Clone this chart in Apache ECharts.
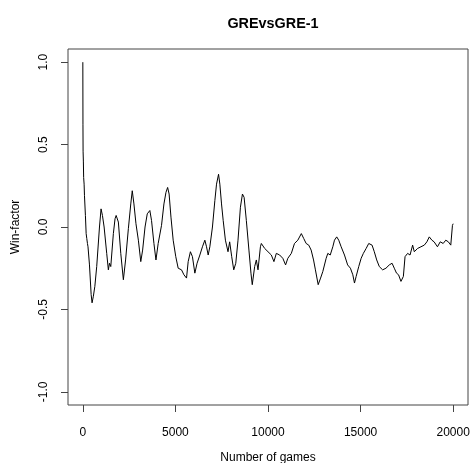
<!DOCTYPE html>
<html>
<head>
<meta charset="utf-8">
<script src="https://cdn.jsdelivr.net/npm/echarts@6/dist/echarts.min.js"></script>
<style>
html,body{margin:0;padding:0;background:#fff;}
#chart{width:472px;height:463px;}
</style>
</head>
<body>
<div id="chart"></div>
<script>
const chartTitle = "GREvsGRE-1";
const xAxisName = "Number of games";
const yAxisName = "Win-factor";
const xTicks = [0, 5000, 10000, 15000, 20000];
const yTicks = [-1.0, -0.5, 0.0, 0.5, 1.0];
const games = [1,8,15,30,45,70,90,140,180,215,250,280,360,450,500,570,650,750,900,985,1060,1150,1290,1380,1440,1510,1650,1740,1800,1860,1920,2050,2190,2310,2460,2590,2670,2760,2870,3000,3130,3230,3360,3480,3620,3710,3840,3950,4070,4160,4250,4380,4490,4580,4660,4760,4880,5020,5150,5330,5460,5600,5690,5810,5920,6050,6170,6320,6460,6590,6680,6770,6860,7000,7130,7220,7330,7400,7490,7580,7700,7840,7930,8040,8150,8260,8380,8510,8620,8710,8830,8970,9080,9150,9280,9370,9460,9590,9640,9820,10000,10180,10320,10450,10630,10800,10950,11070,11260,11430,11610,11800,11930,12060,12200,12330,12460,12560,12710,12840,12960,13140,13230,13360,13500,13590,13710,13820,13950,14130,14300,14450,14580,14670,14760,14900,15030,15150,15300,15440,15530,15620,15740,15870,16010,16190,16370,16550,16700,16820,16940,17050,17180,17310,17400,17540,17670,17810,17900,18080,18260,18440,18580,18710,18850,18970,19150,19300,19460,19600,19740,19870,19960,20000];
const winFactor = [1.00,0.62,0.46,0.40,0.30,0.26,0.19,0.07,-0.04,-0.07,-0.10,-0.12,-0.23,-0.41,-0.46,-0.42,-0.36,-0.24,0.00,0.11,0.07,0.00,-0.16,-0.26,-0.22,-0.24,-0.04,0.05,0.07,0.08,0.03,-0.16,-0.32,-0.20,-0.01,0.14,0.22,0.14,0.02,-0.08,-0.21,-0.14,0.00,0.08,0.10,0.04,-0.10,-0.20,-0.10,-0.10,0.01,0.14,0.21,0.24,0.20,0.06,-0.08,-0.18,-0.25,-0.26,-0.29,-0.31,-0.21,-0.15,-0.18,-0.28,-0.22,-0.17,-0.12,-0.08,-0.12,-0.17,-0.12,0.00,0.16,0.26,0.32,0.26,0.14,0.04,-0.08,-0.15,-0.09,-0.18,-0.26,-0.22,-0.08,0.12,0.20,0.18,0.04,-0.14,-0.28,-0.35,-0.24,-0.20,-0.26,-0.12,-0.10,-0.13,-0.15,-0.17,-0.21,-0.16,-0.17,-0.19,-0.23,-0.19,-0.16,-0.10,-0.08,-0.04,-0.07,-0.10,-0.11,-0.14,-0.20,-0.26,-0.35,-0.31,-0.27,-0.19,-0.16,-0.17,-0.12,-0.08,-0.06,-0.08,-0.12,-0.17,-0.23,-0.25,-0.29,-0.34,-0.30,-0.24,-0.19,-0.16,-0.13,-0.10,-0.09,-0.11,-0.15,-0.20,-0.24,-0.26,-0.25,-0.23,-0.22,-0.25,-0.28,-0.29,-0.33,-0.30,-0.18,-0.16,-0.17,-0.11,-0.15,-0.13,-0.12,-0.11,-0.09,-0.06,-0.08,-0.09,-0.12,-0.09,-0.10,-0.08,-0.09,-0.11,0.01,0.02];

const FONT = "Liberation Sans, Arial, sans-serif";
const chart = echarts.init(document.getElementById('chart'), null, {renderer: 'canvas'});
const seriesData = games.map((g, i) => [g, winFactor[i]]);
chart.setOption({
  animation: false,
  backgroundColor: '#ffffff',
  title: {
    text: chartTitle,
    left: 268,
    top: 12,
    textAlign: 'center',
    textStyle: {fontFamily: FONT, fontSize: 14.4, fontWeight: 'bold', color: '#000'}
  },
  grid: {
    left: 68, right: 4, top: 49, bottom: 58,
    containLabel: false,
    outerBoundsMode: 'none',
    show: true, borderColor: '#444', borderWidth: 1, backgroundColor: 'transparent'
  },
  xAxis: {
    type: 'value',
    min: -800, max: 20800,
    name: xAxisName,
    nameLocation: 'middle',
    nameGap: 47,
    nameTextStyle: {fontFamily: FONT, fontSize: 12, color: '#000'},
    axisLine: {show: false, onZero: false},
    splitLine: {show: false},
    axisTick: {show: true, inside: false, customValues: xTicks, length: 7, lineStyle: {color: '#444', width: 1}},
    axisLabel: {customValues: xTicks, margin: 22, fontFamily: FONT, fontSize: 12, color: '#000',
      formatter: v => String(v)}
  },
  yAxis: {
    type: 'value',
    min: -1.08, max: 1.08,
    name: yAxisName,
    nameLocation: 'middle',
    nameGap: 46,
    nameRotate: 90,
    nameTextStyle: {fontFamily: FONT, fontSize: 12, color: '#000'},
    axisLine: {show: false, onZero: false},
    splitLine: {show: false},
    axisTick: {show: true, inside: false, customValues: yTicks, length: 7, lineStyle: {color: '#444', width: 1}},
    axisLabel: {
      customValues: yTicks, rotate: 90, margin: 18,
      fontFamily: FONT, fontSize: 12, color: '#000',
      formatter: v => v.toFixed(1)
    }
  },
  series: [{
    type: 'line',
    data: seriesData,
    showSymbol: false,
    symbol: 'none',
    lineStyle: {color: '#000', width: 1},
    silent: true
  }]
});
</script>
</body>
</html>
